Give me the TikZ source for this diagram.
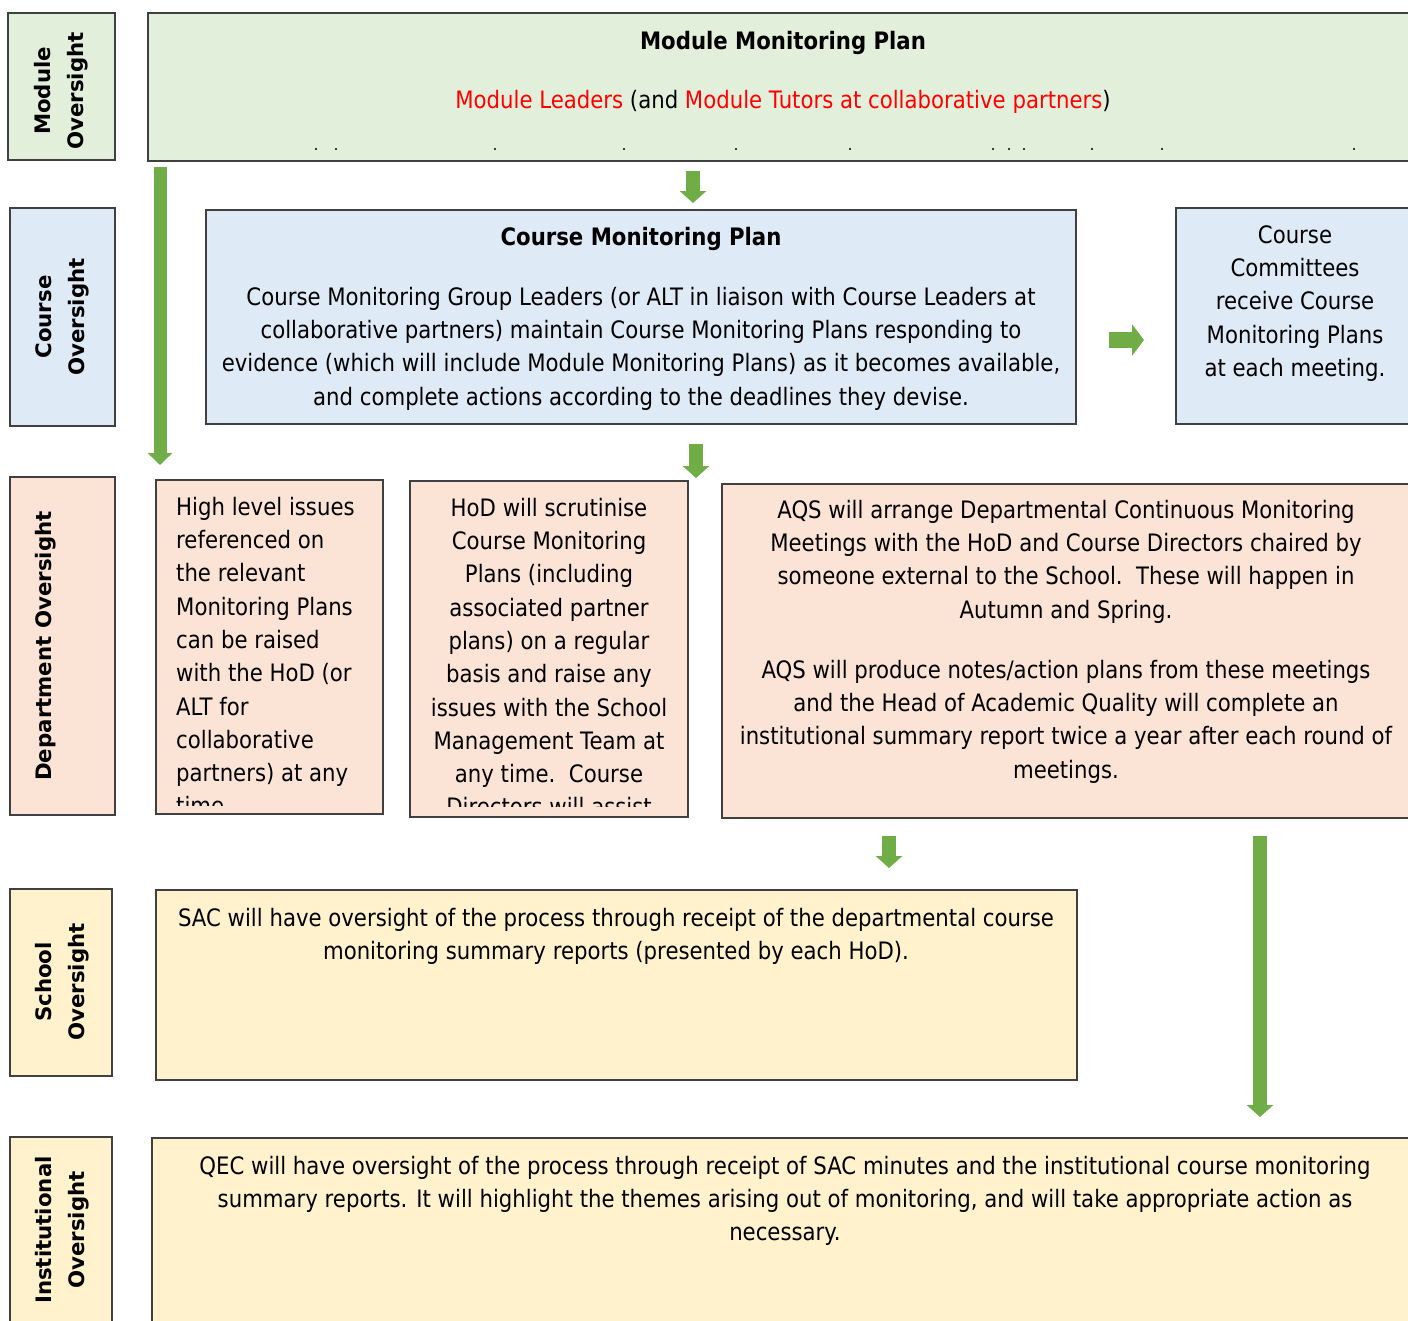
\documentclass[tikz,border=0pt]{standalone}
\usepackage{fontspec}
\setmainfont{DejaVu Sans}[FakeStretch=0.885]
\newfontfamily\labfont{DejaVu Sans}
\usetikzlibrary{arrows.meta}
\definecolor{gfill}{HTML}{E2EFDA}
\definecolor{bfill}{HTML}{DEEAF6}
\definecolor{pfill}{HTML}{FBE4D5}
\definecolor{yfill}{HTML}{FFF2CC}
\definecolor{edge}{HTML}{404040}
\definecolor{agreen}{HTML}{70AD47}
\definecolor{redtxt}{HTML}{FF0000}
\newcommand\strutA{\rule{0pt}{19pt}}
\begin{document}
\begin{tikzpicture}[x=1pt,y=-1pt,
  box/.style={draw=edge, line width=1.3pt, inner sep=0pt},
  txt/.style={inner sep=0pt, align=center, font=\fontsize{24}{33.3}\selectfont},
  ttl/.style={inner sep=0pt, align=center, font=\bfseries\fontsize{24}{33.3}\selectfont},
  lab/.style={rotate=90, inner sep=0pt, align=center, font=\labfont\bfseries\fontsize{21.3}{33}\selectfont},
  garrow/.style={draw=agreen, line width=14pt, -{Triangle[width=26pt,length=12pt]}}]
\clip (0,0) rectangle (1408,1320);
\fill[white] (0,0) rectangle (1408,1320);
% left labels
\node[box, fill=gfill, minimum width=107pt, minimum height=147pt] (labMod) at (61.5,86.5) {};
\node[box, fill=bfill, minimum width=105pt, minimum height=218pt] (labCourse) at (62.5,317) {};
\node[box, fill=pfill, minimum width=105pt, minimum height=338pt] (labDept) at (62.5,646) {};
\node[box, fill=yfill, minimum width=102pt, minimum height=187pt] (labSchool) at (61,982.5) {};
\node[box, fill=yfill, minimum width=102pt, minimum height=203pt] (labInst) at (61,1238.5) {};
\node[lab] (tMod) at (61,91) {Module\\Oversight};
\node[lab] (tCourse) at (62,317) {Course\\Oversight};
\node[lab] (tDept) at (46,646) {Department Oversight};
\node[lab] (tSchool) at (62,982) {School\\Oversight};
\node[lab] (tInst) at (62,1230) {Institutional\\Oversight};
% main boxes
\node[box, fill=gfill, minimum width=1272pt, minimum height=148pt] (modBox) at (784,87) {};
\node[box, fill=bfill, minimum width=870pt, minimum height=214pt] (cmpBox) at (641,317) {};
\node[box, fill=bfill, minimum width=244pt, minimum height=216pt] (ccBox) at (1298,316) {};
\node[box, fill=pfill, minimum width=227pt, minimum height=334pt] (d1Box) at (269.5,647) {};
\node[box, fill=pfill, minimum width=278pt, minimum height=336pt] (d2Box) at (549,649) {};
\node[box, fill=pfill, minimum width=698pt, minimum height=334pt] (d3Box) at (1071,651) {};
\node[box, fill=yfill, minimum width=921pt, minimum height=190pt] (sacBox) at (616.5,985) {};
\node[box, fill=yfill, minimum width=1268pt, minimum height=202pt] (qecBox) at (786,1239) {};
% texts
\node[ttl, anchor=north] (modTitle) at (783,30) {\strutA Module Monitoring Plan};
\node[txt, anchor=north] (modWho) at (783,89) {\strutA{\color{redtxt}Module Leaders} (and {\color{redtxt}Module Tutors at collaborative partners})};
\foreach \dx in {316,336,495,624,736,850,993,1009,1024,1092,1162,1354}
  \fill (\dx,149) circle (1.1pt);
\node[ttl, anchor=north] (cmpTitle) at (641,226) {\strutA Course Monitoring Plan};
\node[txt, anchor=north] (cmpText) at (641,286) {\strutA Course Monitoring Group Leaders (or ALT in liaison with Course Leaders at\\
collaborative partners) maintain Course Monitoring Plans responding to\\
evidence (which will include Module Monitoring Plans) as it becomes available,\\
and complete actions according to the deadlines they devise.};
\node[txt, anchor=north] (ccText) at (1295,224) {\strutA Course\\Committees\\receive Course\\Monitoring Plans\\at each meeting.};
\begin{scope}
\clip (156,480) rectangle (383,805);
\node[txt, align=left, anchor=north west] (d1Text) at (176,496) {\strutA High level issues\\referenced on\\the relevant\\Monitoring Plans\\can be raised\\with the HoD (or\\ALT for\\collaborative\\partners) at any\\time.};
\end{scope}
\begin{scope}
\clip (410,481) rectangle (688,806);
\node[txt, anchor=north] (d2Text) at (549,497) {\strutA HoD will scrutinise\\Course Monitoring\\Plans (including\\associated partner\\plans) on a regular\\basis and raise any\\issues with the School\\Management Team at\\any time.\ \ Course\\Directors will assist};
\end{scope}
\node[txt, anchor=north] (d3TextA) at (1066,499) {\strutA AQS will arrange Departmental Continuous Monitoring\\
Meetings with the HoD and Course Directors chaired by\\
someone external to the School.\ \ These will happen in\\
Autumn and Spring.};
\node[txt, anchor=north] (d3TextB) at (1066,659) {\strutA AQS will produce notes/action plans from these meetings\\
and the Head of Academic Quality will complete an\\
institutional summary report twice a year after each round of\\
meetings.};
\node[txt, anchor=north] (sacText) at (616,907) {\strutA SAC will have oversight of the process through receipt of the departmental course\\
monitoring summary reports (presented by each HoD).};
\node[txt, anchor=north] (qecText) at (785,1155) {\strutA QEC will have oversight of the process through receipt of SAC minutes and the institutional course monitoring\\
summary reports. It will highlight the themes arising out of monitoring, and will take appropriate action as\\
necessary.};
% arrows
\coordinate (a1s) at (693,171); \coordinate (a1e) at (693,203);
\coordinate (a2s) at (160,167); \coordinate (a2e) at (160,465);
\coordinate (a3s) at (696,444); \coordinate (a3e) at (696,478);
\coordinate (a4s) at (1109,340); \coordinate (a4e) at (1144,340);
\coordinate (a5s) at (889,836); \coordinate (a5e) at (889,868);
\coordinate (a6s) at (1260,836); \coordinate (a6e) at (1260,1117);
\draw[garrow] (a1s) -- (a1e);
\draw[garrow, line width=13pt, -{Triangle[width=24pt,length=12pt]}] (a2s) -- (a2e);
\draw[garrow] (a3s) -- (a3e);
\draw[garrow, line width=16pt, -{Triangle[width=31pt,length=12pt]}] (a4s) -- (a4e);
\draw[garrow] (a5s) -- (a5e);
\draw[garrow] (a6s) -- (a6e);
\end{tikzpicture}
\end{document}
